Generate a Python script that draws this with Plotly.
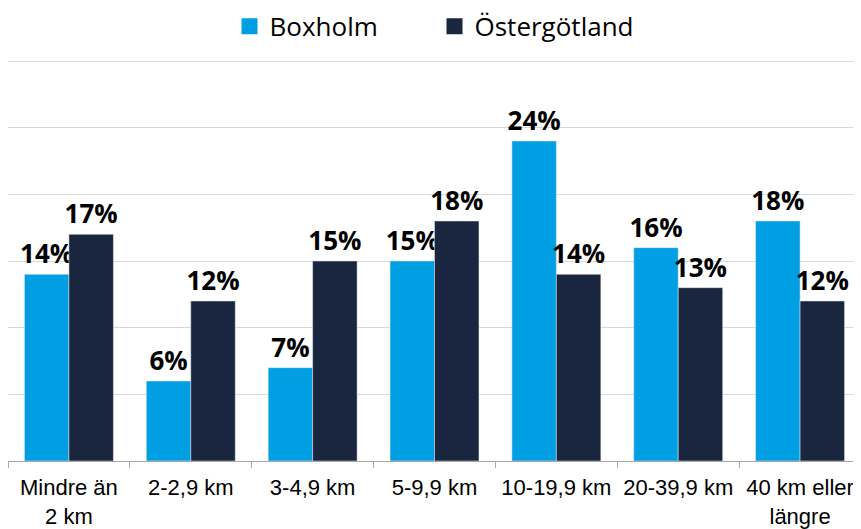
import plotly.graph_objects as go

categories = ["Mindre än<br>2 km", "2-2,9 km", "3-4,9 km", "5-9,9 km",
              "10-19,9 km", "20-39,9 km", "40 km eller<br>längre"]
boxholm = [14, 6, 7, 15, 24, 16, 18]
ostergotland = [17, 12, 15, 18, 14, 13, 12]
series_names = ["Boxholm", "Östergötland"]
colors = ["#009FE3", "#1A2540"]

fig = go.Figure()
for name, vals, col in zip(series_names, [boxholm, ostergotland], colors):
    fig.add_trace(go.Bar(
        x=categories, y=vals, name=name, marker_color=col, showlegend=False,
        text=[f"{v}%" for v in vals],
        textposition="outside", cliponaxis=False, constraintext="none",
        textfont=dict(family="Open Sans", size=26, color="black", weight="bold"),
    ))
    # legend entries with square markers
    fig.add_trace(go.Scatter(
        x=[None], y=[None], mode="markers", name=name,
        marker=dict(symbol="square", size=17, color=col),
    ))

fig.update_layout(
    width=853, height=521,
    margin=dict(l=0, r=0, t=49, b=68, autoexpand=False),
    paper_bgcolor="white", plot_bgcolor="white",
    barmode="group", bargap=0.27, bargroupgap=0,
    legend=dict(orientation="h", x=0.5, xanchor="center", y=0.965, yanchor="middle",
                yref="container", font=dict(family="Open Sans", size=26, color="black"),
                entrywidth=160, itemwidth=30),
)
fig.update_xaxes(
    showline=True, linecolor="#A6A6A6", linewidth=1, automargin=False,
    ticks="outside", ticklen=6, tickcolor="#A6A6A6", tickson="boundaries",
    tickfont=dict(family="Liberation Sans", size=22, color="black"),
    tickangle=0, ticklabelstandoff=7,
)
fig.update_yaxes(
    range=[0, 30.3], dtick=5, showticklabels=False, automargin=False,
    showgrid=True, gridcolor="#D9D9D9", gridwidth=1, zeroline=False,
)

fig.write_html("out.html")
